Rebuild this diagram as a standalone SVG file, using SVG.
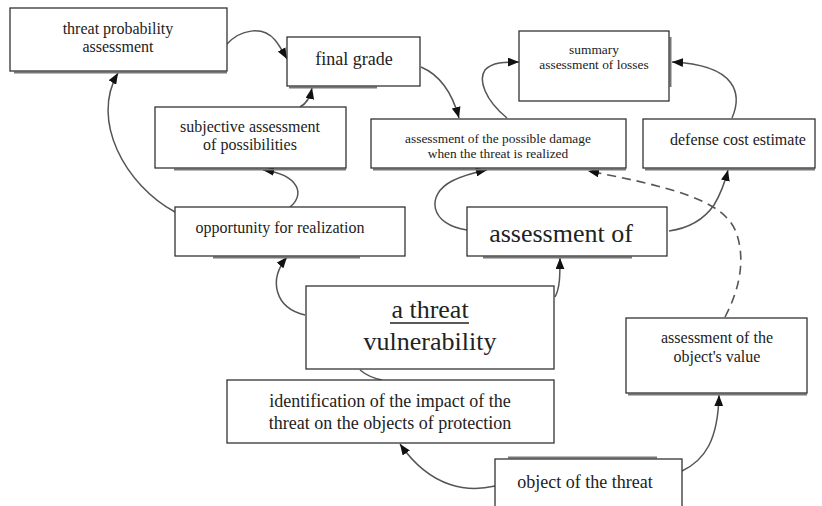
<svg xmlns="http://www.w3.org/2000/svg" width="822" height="506" viewBox="0 0 822 506">
<style>
.box{fill:#fff;stroke:#333;stroke-width:1.3}
.sh{stroke:#777;stroke-width:2;fill:none}
.t{font-family:'Liberation Serif',Tinos,'DejaVu Serif',serif;fill:#222;text-anchor:middle}
.c{fill:none;stroke:#555;stroke-width:1.5}
.d{fill:none;stroke:#555;stroke-width:1.6;stroke-dasharray:9 6}
</style>
<defs>
<marker id="ah" viewBox="0 0 10 8" refX="10" refY="4" markerWidth="11" markerHeight="9" markerUnits="userSpaceOnUse" orient="auto">
<path d="M0,0 L10,4 L0,8 Z" fill="#111"/>
</marker>
</defs>
<rect width="822" height="506" fill="#fff"/>
<g id="connectors">
<path class="c" d="M227,44 C240,30 262,25 275,40 C280,46 283,52 287,59" marker-end="url(#ah)"/>
<path class="c" d="M300,107 C306,104 310,98 312,88" marker-end="url(#ah)"/>
<path class="c" d="M175,212 C125,185 90,120 118,73" marker-end="url(#ah)"/>
<path class="c" d="M290,207 C305,195 300,175 263,170" marker-end="url(#ah)"/>
<path class="c" d="M305,315 C275,308 268,280 287,257" marker-end="url(#ah)"/>
<path class="c" d="M555,297 C560,288 560,275 560,258" marker-end="url(#ah)"/>
<path class="c" d="M421,67 C440,75 452,92 459,118" marker-end="url(#ah)"/>
<path class="c" d="M507,118 C485,100 478,80 485,70 C492,62 505,62 519,62" marker-end="url(#ah)"/>
<path class="c" d="M732,118 C742,95 738,65 672,62" marker-end="url(#ah)"/>
<path class="c" d="M467,230 C430,225 425,195 452,181 C462,176 472,173 487,170" marker-end="url(#ah)"/>
<path class="c" d="M669,231 C690,228 705,218 714,205 C720,195 725,182 728,170" marker-end="url(#ah)"/>
<path class="d" d="M725,317 C735,298 748,265 736,232 C725,205 690,190 588,171" marker-end="url(#ah)"/>
<path class="c" d="M495,486 C470,492 432,490 400,444" marker-end="url(#ah)"/>
<path class="c" d="M682,471 C705,460 718,440 719,395" marker-end="url(#ah)"/>
<path class="c" d="M360,370 C366,375 372,378 382,380"/>
</g>
<g id="n-threat-prob">
<line class="sh" x1="14" y1="72.5" x2="227" y2="72.5"/>
<rect class="box" x="10" y="8" width="217" height="63"/>
<text class="t" x="118" y="34" font-size="16">threat probability</text>
<text class="t" x="118" y="52" font-size="16">assessment</text>
</g>
<g id="n-final">
<line class="sh" x1="289" y1="87.5" x2="377" y2="87.5"/>
<rect class="box" x="287" y="37" width="133" height="49"/>
<text class="t" x="354" y="65" font-size="18">final grade</text>
</g>
<g id="n-subjective">
<line class="sh" x1="174" y1="169.5" x2="346" y2="169.5"/>
<rect class="box" x="155" y="107" width="191" height="61"/>
<text class="t" x="250" y="132" font-size="16">subjective assessment</text>
<text class="t" x="250" y="150" font-size="16">of possibilities</text>
</g>
<g id="n-damage">
<line class="sh" x1="373" y1="169.5" x2="626" y2="169.5"/>
<rect class="box" x="371" y="119" width="255" height="49"/>
<text class="t" x="498" y="143" font-size="13.4">assessment of the possible damage</text>
<text class="t" x="498" y="158" font-size="13.4">when the threat is realized</text>
</g>
<g id="n-summary">
<line class="sh" x1="670.5" y1="37" x2="670.5" y2="87"/>
<rect class="box" x="519" y="31" width="150" height="70"/>
<text class="t" x="594" y="54" font-size="13.4">summary</text>
<text class="t" x="594" y="69" font-size="13.4">assessment of losses</text>
</g>
<g id="n-defense">
<line class="sh" x1="645" y1="169.5" x2="815" y2="169.5"/>
<rect class="box" x="643" y="119" width="172" height="49"/>
<text class="t" x="738" y="145" font-size="16">defense cost estimate</text>
</g>
<g id="n-opportunity">
<line class="sh" x1="213" y1="257.5" x2="360" y2="257.5"/>
<rect class="box" x="175" y="207" width="230" height="49"/>
<text class="t" x="280" y="233" font-size="16">opportunity for realization</text>
</g>
<g id="n-assessment-of">
<line class="sh" x1="483" y1="257.5" x2="632" y2="257.5"/>
<rect class="box" x="467" y="207" width="200" height="49"/>
<text class="t" x="561" y="242" font-size="26">assessment of</text>
</g>
<g id="n-threat">
<rect class="box" x="306" y="286" width="248" height="83"/>
<text class="t" x="430" y="318" font-size="26">a threat</text>
<line x1="390" y1="323" x2="469" y2="323" stroke="#222" stroke-width="1.5"/>
<text class="t" x="430" y="350" font-size="26">vulnerability</text>
</g>
<g id="n-identification">
<rect class="box" x="227" y="380" width="327" height="63"/>
<text class="t" x="390" y="407" font-size="18">identification of the impact of the</text>
<text class="t" x="390" y="429" font-size="18">threat on the objects of protection</text>
</g>
<g id="n-object">
<line class="sh" x1="508" y1="457.5" x2="657" y2="457.5"/>
<rect class="box" x="495" y="459" width="187" height="60"/>
<text class="t" x="585" y="488" font-size="18">object of the threat</text>
</g>
<g id="n-value">
<line class="sh" x1="628" y1="394.5" x2="807" y2="394.5"/>
<rect class="box" x="626" y="318" width="181" height="75"/>
<text class="t" x="717" y="343" font-size="16">assessment of the</text>
<text class="t" x="717" y="362" font-size="16">object's value</text>
</g>
</svg>
